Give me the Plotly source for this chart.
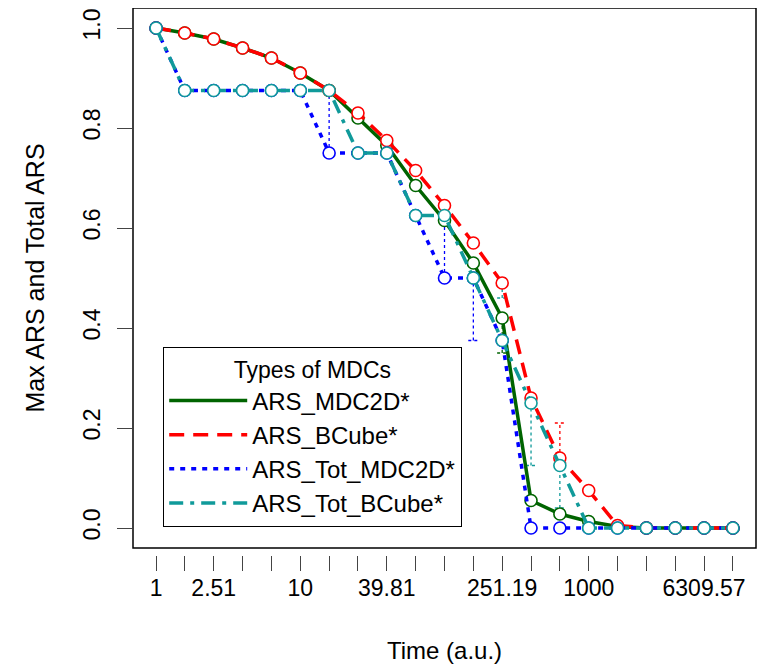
import plotly.graph_objects as go

# time points (a.u.), 0.2-decade steps
time_pts = [1, 1.58, 2.51, 3.98, 6.31, 10, 15.85, 25.12, 39.81, 63.1, 100,
            158.49, 251.19, 398.11, 630.96, 1000, 1584.89, 2511.89, 3981.07,
            6309.57, 10000]
tick_labels = ["1", "", "2.51", "", "", "10", "", "", "39.81", "", "", "",
               "251.19", "", "", "1000", "", "", "", "6309.57", ""]

ars_mdc2d = [1.0, 0.99, 0.978, 0.96, 0.94, 0.91, 0.875, 0.82, 0.765, 0.685,
             0.615, 0.53, 0.42, 0.055, 0.028, 0.013, 0.003, 0.0, 0.0, 0.0, 0.0]
ars_bcube = [1.0, 0.99, 0.978, 0.96, 0.94, 0.91, 0.875, 0.83, 0.775, 0.715,
             0.645, 0.57, 0.49, 0.26, 0.14, 0.075, 0.005, 0.0, 0.0, 0.0, 0.0]
ars_tot_mdc2d = [1.0, 0.875, 0.875, 0.875, 0.875, 0.875, 0.75, 0.75, 0.75,
                 0.625, 0.5, 0.5, 0.375, 0.0, 0.0, 0.0, 0.0, 0.0, 0.0, 0.0, 0.0]
ars_tot_bcube = [1.0, 0.875, 0.875, 0.875, 0.875, 0.875, 0.875, 0.75, 0.75,
                 0.625, 0.625, 0.5, 0.375, 0.25, 0.125, 0.0, 0.0, 0.0, 0.0,
                 0.0, 0.0]

# dotted spread bars: (time, low, high)
err_mdc2d = [(251.19, 0.35, 0.42)]
err_bcube = [(630.96, 0.14, 0.21)]
err_tot_mdc2d = [(15.85, 0.75, 0.875), (100, 0.5, 0.625), (158.49, 0.375, 0.5)]
err_tot_bcube = [(251.19, 0.46, 0.5), (398.11, 0.125, 0.25), (630.96, 0.04, 0.125)]

FONT = "Liberation Sans, Arial, sans-serif"
series = [
    ("ARS_MDC2D*", ars_mdc2d, err_mdc2d, "#006400", "solid"),
    ("ARS_BCube*", ars_bcube, err_bcube, "#FF0000", "15px,9px"),
    ("ARS_Tot_MDC2D*", ars_tot_mdc2d, err_tot_mdc2d, "#0000FF", "5px,6px"),
    ("ARS_Tot_BCube*", ars_tot_bcube, err_tot_bcube, "#109A9A", "14px,7px,4px,7px"),
]

fig = go.Figure()
cap = 10 ** 0.035
for name, vals, errs, col, dash in series:
    ex, ey = [], []
    for t, lo, hi in errs:
        ex += [t, t, None, t / cap, t * cap, None, t / cap, t * cap, None]
        ey += [lo, hi, None, lo, lo, None, hi, hi, None]
    fig.add_trace(go.Scatter(x=ex, y=ey, mode="lines", showlegend=False,
                             hoverinfo="skip",
                             line=dict(color=col, width=1.3, dash="dot")))

for name, vals, errs, col, dash in series:
    fig.add_trace(go.Scatter(
        x=time_pts, y=vals, name=name, mode="lines+markers", showlegend=False,
        line=dict(color=col, width=3.5, dash=dash),
        marker=dict(symbol="circle", size=12, color="white",
                    line=dict(color=col, width=1.6)),
    ))

# legend entries: lines only, like the original
for name, vals, errs, col, dash in series:
    fig.add_trace(go.Scatter(x=[None], y=[None], name=name, mode="lines",
                             line=dict(color=col, width=3.5, dash=dash)))

# page body adds an 8px margin, so the figure is 8px smaller than the window
fig.update_layout(
    width=757, height=657,
    margin=dict(l=125, r=9, t=0, b=110),
    paper_bgcolor="white", plot_bgcolor="white",
    font=dict(family=FONT, size=23, color="black"),
    showlegend=True,
    legend=dict(
        x=0.048, y=0.38, xanchor="left", yanchor="top",
        bordercolor="black", borderwidth=1.3, bgcolor="white",
        font=dict(size=24), itemwidth=78, tracegroupgap=0,
        title=dict(text="Types of MDCs", side="top center", font=dict(size=23)),
    ),
    shapes=[dict(type="rect", xref="x domain", yref="y domain",
                 x0=0, x1=1, y0=0, y1=1, line=dict(color="black", width=1.5))],
)
fig.update_xaxes(
    type="log", range=[-0.16, 4.16], anchor="free", position=0, automargin=False,
    tickvals=time_pts, ticktext=tick_labels, ticks="outside", ticklen=15,
    tickcolor="#444", tickwidth=1, showgrid=False, zeroline=False,
    showline=False, tickfont=dict(size=23), ticklabelstandoff=-3,
    title=dict(text="Time (a.u.)", standoff=42, font=dict(size=24)),
)
fig.update_yaxes(
    range=[-0.04, 1.04], domain=[0.0128, 1], automargin=False,
    tickvals=[0, 0.2, 0.4, 0.6, 0.8, 1.0],
    ticktext=["0.0", "0.2", "0.4", "0.6", "0.8", "1.0"],
    tickangle=-90, ticks="outside", ticklen=15, tickcolor="#444", tickwidth=1,
    showgrid=False, zeroline=False, showline=False, tickfont=dict(size=23),
    ticklabelstandoff=8,
    title=dict(text="Max ARS and Total ARS", standoff=27, font=dict(size=25)),
)

fig.write_html("out.html")
